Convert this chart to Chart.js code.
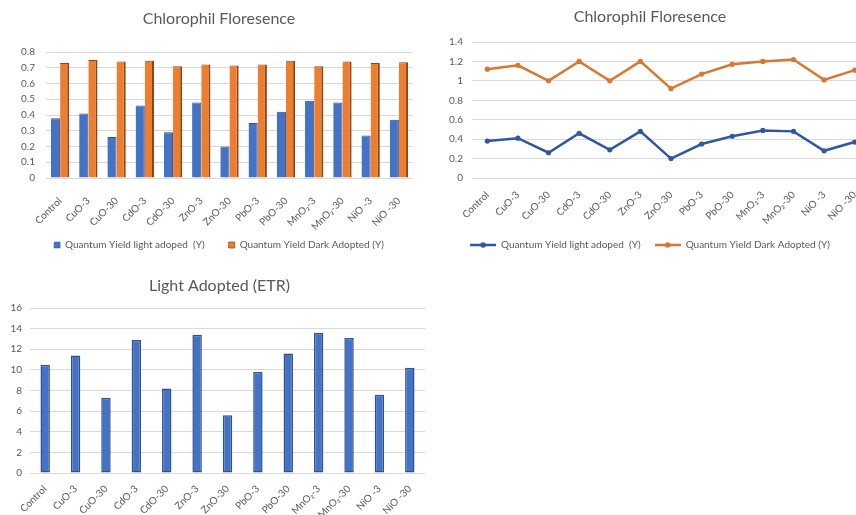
<!DOCTYPE html>
<html><head><meta charset="utf-8">
<script src="https://cdn.jsdelivr.net/npm/chart.js@4/dist/chart.umd.min.js"></script>
<style>
html,body{margin:0;padding:0;background:#fff;width:856px;height:515px;overflow:hidden}
.box{position:absolute;overflow:hidden}
canvas{display:block}
</style></head><body>
<div class="box" style="left:0;top:0;width:430px;height:260px"><canvas id="c1" width="430" height="260"></canvas></div>
<div class="box" style="left:430px;top:0;width:426px;height:260px"><canvas id="c2" width="460" height="260"></canvas></div>
<div class="box" style="left:0;top:270px;width:430px;height:245px"><canvas id="c3" width="430" height="245"></canvas></div>
<script>
const categories = ["Control","CuO-3","CuO-30","CdO-3","CdO-30","ZnO-3","ZnO-30","PbO-3","PbO-30","MnO\u2082-3","MnO\u2082-30","NiO -3","NiO -30"];
const seriesNames = ["Quantum Yield light adoped  (Y)","Quantum Yield Dark Adopted (Y)"];
const barLightY = [0.38,0.41,0.26,0.46,0.29,0.48,0.20,0.35,0.42,0.49,0.48,0.27,0.37];
const barDarkY  = [0.73,0.75,0.74,0.745,0.71,0.72,0.715,0.72,0.745,0.71,0.74,0.73,0.735];
const lineLightY = [0.38,0.41,0.26,0.46,0.29,0.48,0.20,0.35,0.43,0.49,0.48,0.28,0.37];
const lineDarkY  = [1.12,1.16,1.00,1.20,1.00,1.20,0.92,1.07,1.17,1.20,1.22,1.01,1.11];
const etrTitle = "Light Adopted (ETR)";
const etrValues = [10.5,11.4,7.3,12.9,8.2,13.4,5.6,9.8,11.6,13.6,13.1,7.6,10.2];
const chartTitle = "Chlorophil Floresence";

Chart.defaults.font.family = "Lato, 'Open Sans', sans-serif";
Chart.defaults.color = "#595959";
Chart.defaults.animation = false;
// let tick labels overflow their axis boxes
Chart.CategoryScale.prototype._computeLabelArea = function () { return undefined; };
Chart.LinearScale.prototype._computeLabelArea = function () { return undefined; };

const GRID = "#D9D9D9";
const BLUE = "#4472C4", ORANGE = "#ED7D31";
const LBLUE = "#2F57A3", LORANGE = "#D9772F";

function yScale(max, step, w, pad) {
  return {
    min: 0, max: max,
    ticks: { stepSize: step, padding: pad, font: { size: 10 }, color: "#595959", autoSkip: false,
      callback: v => String(Number(Number(v).toFixed(2))) },
    grid: { color: GRID, drawTicks: false, lineWidth: 1 },
    border: { display: false },
    afterFit: s => { s.width = w; }
  };
}
function xScale(h, pad) {
  return {
    offset: true,
    ticks: { minRotation: 45, maxRotation: 45, autoSkip: false, padding: pad, font: { size: 10 }, color: "#595959" },
    grid: { display: false, drawTicks: false },
    border: { display: false },
    afterFit: s => { s.height = h; }
  };
}
function titleOpt(text, top, bottom) {
  return { display: true, text: text, color: "#595959", font: { size: 16, weight: "normal" }, padding: { top: top, bottom: bottom } };
}

// Chart 1: grouped bars
new Chart(document.getElementById("c1"), {
  type: "bar",
  data: {
    labels: categories,
    datasets: [
      { label: seriesNames[0], data: barLightY, backgroundColor: BLUE, borderColor: "#2F528F",
        borderWidth: { top: 1, right: 1, left: 0, bottom: 0 }, borderSkipped: false,
        categoryPercentage: 0.65, barPercentage: 1.0 },
      { label: seriesNames[1], data: barDarkY, backgroundColor: ORANGE, borderColor: "#8E4413",
        borderWidth: { top: 1, right: 2, left: 0, bottom: 0 }, borderSkipped: false,
        categoryPercentage: 0.65, barPercentage: 1.0 }
    ]
  },
  options: {
    responsive: false,
    layout: { padding: { left: 25, right: 17, top: 0, bottom: 0 } },
    scales: { x: xScale(82 - (10 + 24 + 10), 17), y: yScale(0.8, 0.1, 21, 11) },
    plugins: {
      title: titleOpt(chartTitle, 9.4, 23.4),
      legend: { position: "bottom", labels: { boxWidth: 6, boxHeight: 6, font: { size: 10 }, color: "#595959", padding: 24 } },
      tooltip: { enabled: false }
    }
  }
});

// Chart 2: lines
function legendMarker(color) {
  const c = document.createElement("canvas");
  c.width = 26; c.height = 8;
  const g = c.getContext("2d");
  g.strokeStyle = color; g.lineWidth = 2.5;
  g.beginPath(); g.moveTo(0, 4); g.lineTo(26, 4); g.stroke();
  g.fillStyle = color; g.beginPath(); g.arc(13, 4, 2.8, 0, Math.PI * 2); g.fill();
  return c;
}
const markers = [legendMarker(LBLUE), legendMarker(LORANGE)];
new Chart(document.getElementById("c2"), {
  type: "line",
  data: {
    labels: categories,
    datasets: [
      { label: seriesNames[0], data: lineLightY, borderColor: LBLUE, backgroundColor: LBLUE, borderWidth: 2.5,
        pointRadius: 2.6, pointBackgroundColor: LBLUE, pointBorderWidth: 0, tension: 0 },
      { label: seriesNames[1], data: lineDarkY, borderColor: LORANGE, backgroundColor: LORANGE, borderWidth: 2.5,
        pointRadius: 2.6, pointBackgroundColor: LORANGE, pointBorderWidth: 0, tension: 0 }
    ]
  },
  options: {
    responsive: false,
    layout: { padding: { left: 0, right: 20, top: 0, bottom: 0 } },
    scales: { x: xScale(82 - (10 + 14 + 10), 11), y: yScale(1.4, 0.2, 42, 9) },
    plugins: {
      title: titleOpt(chartTitle, 7.4, 15.4),
      legend: { position: "bottom", labels: {
        usePointStyle: true, pointStyleWidth: 26, font: { size: 10 }, color: "#595959", padding: 14,
        generateLabels: chart => {
          const items = Chart.defaults.plugins.legend.labels.generateLabels(chart);
          items.forEach((it, i) => { it.pointStyle = markers[i]; });
          return items;
        }
      } },
      tooltip: { enabled: false }
    }
  }
});

// Chart 3: ETR bars
new Chart(document.getElementById("c3"), {
  type: "bar",
  data: {
    labels: categories,
    datasets: [
      { label: etrTitle, data: etrValues, backgroundColor: BLUE, borderColor: "#2F528F",
        borderWidth: 1.5, borderSkipped: false, categoryPercentage: 1.0, barPercentage: 0.31 }
    ]
  },
  options: {
    responsive: false,
    layout: { padding: { left: 14, right: 5, top: 0, bottom: 0 } },
    scales: { x: xScale(42, 10), y: yScale(16, 2, 16, 8) },
    plugins: {
      title: titleOpt(etrTitle, 6.4, 12.4),
      legend: { display: false },
      tooltip: { enabled: false }
    }
  }
});
</script>
</body></html>
